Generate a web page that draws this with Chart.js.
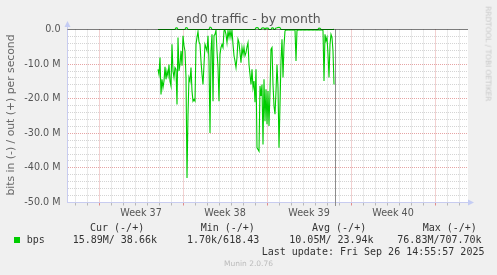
<!DOCTYPE html>
<html><head><meta charset="utf-8"><title>end0 traffic - by month</title>
<script src="https://cdn.jsdelivr.net/npm/chart.js@4.4.1/dist/chart.umd.min.js"></script>
<style>
html,body{margin:0;padding:0;background:#f0f0f0;overflow:hidden}
#wrap{position:relative;width:497px;height:275px}
#c{position:absolute;left:0;top:0}
.t{position:absolute;white-space:pre;line-height:1;font-family:"DejaVu Sans",sans-serif;color:#555}
.m{position:absolute;white-space:pre;line-height:1;font-family:"DejaVu Sans Mono",monospace;font-size:10px;color:#333}
.sq{position:absolute;left:14px;top:237px;width:6px;height:6px;background:#00cc00}
</style></head><body><div id="wrap">
<canvas id="c" width="497" height="275"></canvas>
<div class="t" style="left:0;width:497px;text-align:center;top:12.9px;font-size:12.5px">end0 traffic - by month</div>
<div class="t" style="left:-89px;top:109.5px;width:200px;height:10px;line-height:10px;text-align:center;font-size:10.8px;color:#666;transform:rotate(-90deg)">bits in (-) / out (+) per second</div>
<div class="t" style="left:437.5px;top:49.8px;width:100px;text-align:center;font-size:7.4px;color:#c8c8c8;transform:rotate(90deg)">RRDTOOL / TOBI OETIKER</div>
<div class="m" style="left:90px;top:222.5px">Cur (-/+)</div>
<div class="m" style="left:200.7px;top:222.5px">Min (-/+)</div>
<div class="m" style="left:312px;top:222.5px">Avg (-/+)</div>
<div class="m" style="left:422.7px;top:222.5px">Max (-/+)</div>
<div class="sq"></div>
<div class="m" style="left:26.7px;top:234.8px">bps</div>
<div class="m" style="left:72.7px;top:234.8px">15.89M/ 38.66k</div>
<div class="m" style="left:187px;top:234.8px">1.70k/618.43</div>
<div class="m" style="left:289.3px;top:234.8px">10.05M/ 23.94k</div>
<div class="m" style="left:397.3px;top:234.8px">76.83M/707.70k</div>
<div class="m" style="left:261.7px;top:246.8px">Last update: Fri Sep 26 14:55:57 2025</div>
<div class="t" style="left:0;width:497px;text-align:center;top:260.2px;font-size:7.5px;color:#bbb">Munin 2.0.76</div>
</div>
<script>
// time unit: hours since 2025-09-01 00:00; one sample every 2 hours
const HOUR0 = 286, STEP_H = 2;
// bits in, Mbit/s (plotted negative)
const inMbps = [
 11.5,13.0,8.1,18.8,14.4,16.8,14.9,10.8,14.4,12.0,
 13.4,10.1,14.9,16.3,4.3,12.0,13.9,11.0,11.5,21.7,
 2.3,12.0,10.1,6.2,10.5,1.8,4.7,6.2,13.9,42.9,
 24.5,13.9,14.9,11.0,17.8,20.7,20.2,20.7,4.3,2.3,
 0.6,3.6,4.3,9.1,13.0,15.9,10.1,4.3,5.2,6.2,
 1.8,9.1,29.9,6.2,1.4,20.7,1.8,1.4,0.2,6.2,
 11.0,20.7,7.2,5.2,4.3,5.2,0.4,0.2,1.4,3.8,
 0.4,2.3,0.2,2.3,0.2,4.3,7.6,9.1,11.0,8.1,
 2.8,3.8,6.7,9.6,5.2,7.2,5.2,7.6,6.7,5.0,
 3.8,10.1,13.0,15.9,11.5,16.8,14.9,21.0,11.5,34.2,
 34.7,35.2,16.3,19.2,15.9,33.2,14.4,26.5,17.3,27.4,
 17.8,27.9,17.8,5.7,5.2,15.9,22.1,24.5,17.8,10.1,
 16.8,34.2,21.7,9.1,2.8,13.9,4.7,0.4,0.1,0.2,
 0.1,0.1,0.2,0.1,0.1,0.2,0.1,0.1,9.1,0.1,
 0.2,0.1,0.1,0.2,0.1,0.1,0.1,0.2,0.1,0.1,
 0.1,0.2,0.1,0.1,0.1,0.2,0.1,0.1,0.1,0.2,
 0.1,0.1,0.2,0.1,0.1,0.3,14.9,1.4,3.3,2.3,
 7.2,13.9,4.3,1.4,2.3,6.2,15.9
];
// bits out, Mbit/s (plotted positive)
const outMbps = [
 0.02,0.02,0.02,0.02,0.02,0.02,0.02,0.02,0.02,0.02,
 0.02,0.02,0.02,0.02,0.02,0.02,0.02,0.02,0.50,0.48,
 0.02,0.02,0.02,0.02,0.02,0.02,0.02,0.02,0.55,0.52,
 0.02,0.02,0.02,0.02,0.02,0.02,0.02,0.02,0.02,0.02,
 0.02,0.02,0.02,0.02,0.02,0.02,0.02,0.02,0.02,0.02,
 0.02,0.02,0.70,0.62,0.02,0.02,0.02,0.02,0.02,0.02,
 0.02,0.02,0.02,0.02,0.02,0.02,0.02,0.02,0.02,0.02,
 0.02,0.02,0.02,0.02,0.02,0.02,0.02,0.02,0.02,0.02,
 0.02,0.02,0.02,0.02,0.02,0.02,0.02,0.02,0.02,0.02,
 0.02,0.02,0.02,0.02,0.02,0.02,0.02,0.02,0.50,0.55,
 0.50,0.02,0.02,0.02,0.45,0.48,0.45,0.02,0.40,0.42,
 0.40,0.02,0.02,0.02,0.50,0.48,0.02,0.02,0.45,0.50,
 0.60,0.65,0.55,0.02,0.02,0.02,0.02,0.02,0.02,0.02,
 0.02,0.02,0.02,0.02,0.02,0.02,0.02,0.02,0.02,0.02,
 0.02,0.02,0.02,0.02,0.02,0.02,0.02,0.02,0.02,0.02,
 0.02,0.02,0.02,0.02,0.02,0.02,0.02,0.02,0.02,0.02,
 0.02,0.40,0.38,0.02,0.02,0.02,0.02,0.02,0.02,0.02,
 0.02,0.02,0.02,0.02,0.02,0.02,0.04
];
const weekStartH = [168,336,504,672,840];
const weekLabelH = [252,420,588,756];
const weekLabels = ['Week 37','Week 38','Week 39','Week 40'];
const yMajorM = [0,-10,-20,-30,-40,-50];
const yTickLabels = ['0.0','-10.0 M','-20.0 M','-30.0 M','-40.0 M','-50.0 M'];
const X_MIN = 104, X_MAX = 906;
const Y_MIN = -50e6, Y_MAX = 0, Y_STEP = 2e6;
const vruleH = 641;
const zeroRule = 0;

const inPts = inMbps.map((v,i)=>({x:HOUR0+i*STEP_H, y:-v*1e6}));
const outPts = outMbps.map((v,i)=>({x:HOUR0+i*STEP_H, y:v*1e6}));

const GRID_MINOR = '#d4d4d4', GRID_MAJOR = '#e6a4a4', AXIS = '#c8ccf0';

const bgPlugin = {id:'bg', beforeDraw(c){
  const {ctx, chartArea:a} = c;
  ctx.save(); ctx.fillStyle = '#fff';
  ctx.fillRect(a.left, a.top, a.right-a.left, a.bottom-a.top); ctx.restore();
}};
const arrowPlugin = {id:'arrows', afterDraw(c){
  const {ctx, chartArea:a} = c;
  const xl = Math.round(a.left) + 0.5, yb = Math.round(a.bottom) - 0.5;
  ctx.save();
  ctx.strokeStyle = AXIS; ctx.lineWidth = 1;
  ctx.beginPath(); ctx.moveTo(xl, a.top); ctx.lineTo(xl, a.top-3); ctx.stroke();
  ctx.fillStyle = '#c4ccf4';
  ctx.beginPath(); ctx.moveTo(xl, a.top-8.5); ctx.lineTo(xl-3, a.top-2.5); ctx.lineTo(xl+3, a.top-2.5); ctx.closePath(); ctx.fill();
  ctx.beginPath(); ctx.moveTo(a.right+6, yb); ctx.lineTo(a.right, yb-3); ctx.lineTo(a.right, yb+3); ctx.closePath(); ctx.fill();
  ctx.restore();
}};

Chart.defaults.font.family = '"DejaVu Sans", sans-serif';

new Chart(document.getElementById('c'), {
  type: 'line',
  data: { datasets: [
    { label:'zero', data:[{x:X_MIN,y:zeroRule},{x:X_MAX,y:zeroRule}], borderColor:'#000', borderWidth:1, pointRadius:0 },
    { label:'now', data:[{x:vruleH,y:Y_MAX},{x:vruleH,y:Y_MIN-0.9e6}], borderColor:'#8c8c8c', borderWidth:1, pointRadius:0, clip:{left:1,top:0,right:1,bottom:4} },
    { label:'bps in', data:inPts, borderColor:'#00cc00', borderWidth:1.1, pointRadius:0, tension:0 },
    { label:'bps out', data:outPts, borderColor:'#00cc00', borderWidth:1.1, pointRadius:0, tension:0, clip:{left:0,top:4,right:0,bottom:0} }
  ]},
  options: {
    responsive:false, animation:false, devicePixelRatio:1,
    layout:{ padding:{ left:0, top:29.5, right:29, bottom:50.5 } },
    plugins:{ legend:{display:false}, tooltip:{enabled:false}, title:{display:false} },
    scales:{
      x:{ type:'linear', min:X_MIN, max:X_MAX,
        afterBuildTicks: s => {
          const t = [];
          for (let h = Math.ceil(X_MIN/24)*24; h <= X_MAX; h += 24) t.push({value:h});
          weekLabelH.forEach(v => t.push({value:v}));
          t.sort((a,b)=>a.value-b.value);
          s.ticks = t;
        },
        afterFit: s => { s.height = 22; },
        ticks:{ autoSkip:false, maxRotation:0, padding:2, color:'#555', font:{size:9.6},
          callback: v => { const i = weekLabelH.indexOf(v); return i >= 0 ? weekLabels[i] : ''; } },
        grid:{ lineWidth:1, tickLength:3,
          color: c => { const v = c.tick ? c.tick.value : 0; return weekStartH.includes(v) ? GRID_MAJOR : (v % 24 === 0 ? GRID_MINOR : 'rgba(0,0,0,0)'); },
          tickColor: c => { const v = c.tick ? c.tick.value : 0; return weekStartH.includes(v) ? '#e08a8a' : (v % 24 === 0 ? '#b8b8b8' : 'rgba(0,0,0,0)'); } },
        border:{ color:AXIS, width:1, dash: c => c.tick ? [1,1] : [] }
      },
      y:{ type:'linear', min:Y_MIN, max:Y_MAX,
        afterBuildTicks: s => {
          const t = [];
          for (let v = Y_MIN; v <= Y_MAX; v += Y_STEP) t.push({value:v});
          s.ticks = t;
        },
        afterFit: s => { s.width = 67; },
        ticks:{ autoSkip:false, padding:6.5, color:'#555', font:{size:9.6},
          callback: v => { const i = yMajorM.indexOf(v/1e6); return i >= 0 ? yTickLabels[i] : ''; } },
        grid:{ drawTicks:false, lineWidth:1,
          color: c => { const m = c.tick ? c.tick.value/1e6 : 1; if (m === 0 || m === -50) return 'rgba(0,0,0,0)'; return yMajorM.includes(m) ? GRID_MAJOR : GRID_MINOR; } },
        border:{ color:AXIS, width:1, dash: c => c.tick ? [1,1] : [] }
      }
    }
  },
  plugins:[bgPlugin, arrowPlugin]
});
</script>
</body></html>
